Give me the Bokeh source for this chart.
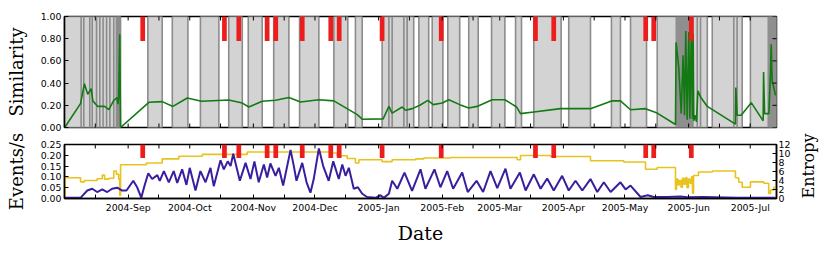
import math
import numpy as np
import pandas as pd
from bokeh.plotting import figure
from bokeh.layouts import column
from bokeh.models import (Range1d, LinearAxis, FixedTicker,
                          DatetimeTickFormatter, NumeralTickFormatter)
from bokeh.embed import file_html
from bokeh.resources import INLINE

# ---------------- data (days since START_DATE) ----------------
START_DATE = "2004-08-01"
END_DAY = 346.8

# gray "stable" segments
band_start = [0.0, 40.6, 52.5, 66.2, 80.0, 89.5, 101.9, 114.5, 131.2, 141.7, 154.7, 172.6,
              179.1, 186.7, 196.9, 208.0, 219.7, 228.6, 245.6, 266.4, 275.7, 288.7, 315.5, 334.1]
band_end = [27.3, 47.6, 60.1, 75.2, 86.6, 96.3, 109.3, 123.9, 138.0, 145.0, 170.1, 177.4,
            184.3, 192.5, 201.5, 214.5, 222.6, 241.9, 256.2, 270.8, 283.5, 313.1, 330.1, 346.8]
# extra segment boundaries inside the gray areas
boundary_days = [8.1, 9.4, 12.3, 13.5, 15.6, 17.2, 18.8, 20.5, 22.1, 24.0, 25.3, 26.4,
                 158.0, 159.6, 165.3, 166.9, 308.2, 309.8, 326.0, 327.6]
# dense boundary clusters
dense_start = [25.1, 297.6, 342.4]
dense_end = [27.3, 306.5, 346.8]

# red alert markers
alert_days = [38.1, 77.9, 84.9, 98.7, 102.9, 115.8, 129.7, 133.8, 154.7, 183.5,
              229.4, 238.3, 283.1, 287.0, 305.3]

# similarity
sim_days = [0.1, 7.8, 9.7, 11.3, 13.0, 13.8, 16.2, 18.4, 19.5, 21.6, 24.0, 25.7, 26.0, 26.4,
            26.9, 27.3, 41.1, 47.6, 52.8, 59.8, 66.7, 80.0, 86.6, 89.8, 96.3, 102.8, 109.3,
            115.0, 123.9, 131.2, 142.6, 145.0, 155.2, 158.0, 159.6, 164.5, 166.1, 169.4,
            173.1, 177.0, 179.6, 184.0, 187.2, 192.5, 196.9, 201.0, 208.3, 214.5, 220.2,
            222.1, 228.6, 241.6, 256.2, 266.8, 270.8, 275.7, 283.0, 288.7, 297.6, 297.9,
            299.2, 300.4, 301.3, 302.0, 302.6, 303.3, 304.1, 304.6, 305.3, 305.9, 306.2,
            306.5, 307.3, 307.8, 308.5, 309.8, 313.1, 326.8, 327.0, 327.6, 329.6, 334.5,
            340.3, 340.5, 341.0, 343.1, 343.9, 344.2, 344.7, 345.5, 346.3]
sim_vals = [0.0, 0.215, 0.394, 0.30, 0.35, 0.24, 0.19, 0.19, 0.19, 0.16, 0.245, 0.27, 0.21,
            0.275, 0.84, 0.0, 0.227, 0.233, 0.19, 0.266, 0.236, 0.248, 0.22, 0.185, 0.236,
            0.245, 0.27, 0.23, 0.25, 0.24, 0.116, 0.075, 0.078, 0.19, 0.13, 0.185, 0.155,
            0.17, 0.2, 0.245, 0.206, 0.22, 0.25, 0.206, 0.176, 0.19, 0.25, 0.25, 0.185,
            0.125, 0.14, 0.17, 0.17, 0.24, 0.24, 0.16, 0.17, 0.13, 0.027, 0.767, 0.54,
            0.125, 0.65, 0.11, 0.87, 0.07, 0.86, 0.08, 0.84, 0.08, 0.85, 0.06, 0.11, 0.05,
            0.33, 0.275, 0.19, 0.03, 0.36, 0.11, 0.11, 0.224, 0.06, 0.5, 0.125, 0.125, 0.5,
            0.75, 0.41, 0.36, 0.29]

# events per second
rate_days = [0.0, 7.8, 11.1, 13.5, 15.9, 18.4, 20.8, 23.2, 25.7, 28.1,
             30.2, 33.5, 35.4, 37.4, 39.0, 40.8, 42.7, 45.2, 46.4, 48.4,
             50.8, 53.2, 54.9, 57.3, 59.4, 61.0, 63.8, 66.2, 68.7, 71.1,
             72.7, 76.0, 77.6, 79.5, 80.9, 82.2, 85.4, 88.2, 90.6, 92.5,
             94.6, 97.1, 98.7, 100.3, 102.8, 104.4, 106.5, 110.1, 111.7, 113.0,
             115.8, 117.9, 119.8, 121.4, 123.9, 126.0, 128.7, 130.9, 133.6, 135.3,
             136.9, 138.5, 140.9, 142.9, 145.0, 147.4, 151.5, 153.9, 155.5, 158.0,
             159.6, 162.1, 165.6, 169.3, 173.4, 175.8, 180.2, 183.1, 186.4, 189.3,
             193.7, 196.4, 200.7, 203.9, 207.5, 210.8, 214.8, 217.2, 221.8, 224.6,
             228.6, 231.9, 235.1, 238.3, 242.4, 245.6, 248.9, 252.2, 256.2, 259.5,
             262.7, 266.0, 270.8, 273.3, 275.7, 280.6, 284.1, 287.0, 293.6, 300.0,
             303.3, 311.4, 327.7, 346.3]
rate_vals = [0.003, 0.003, 0.037, 0.045, 0.03, 0.042, 0.03, 0.045, 0.05, 0.037,
             0.037, 0.082, 0.052, 0.004, 0.06, 0.117, 0.09, 0.108, 0.082, 0.127,
             0.075, 0.127, 0.072, 0.135, 0.063, 0.142, 0.037, 0.127, 0.075, 0.142,
             0.057, 0.177, 0.135, 0.172, 0.15, 0.207, 0.082, 0.165, 0.09, 0.172,
             0.075, 0.157, 0.097, 0.162, 0.105, 0.142, 0.06, 0.225, 0.15, 0.082,
             0.165, 0.075, 0.027, 0.09, 0.232, 0.15, 0.082, 0.172, 0.09, 0.157,
             0.105, 0.142, 0.045, 0.052, 0.022, 0.007, 0.003, 0.015, 0.003, 0.022,
             0.082, 0.045, 0.12, 0.035, 0.135, 0.045, 0.135, 0.052, 0.127, 0.045,
             0.12, 0.03, 0.082, 0.03, 0.127, 0.048, 0.138, 0.045, 0.12, 0.037,
             0.112, 0.045, 0.093, 0.037, 0.105, 0.037, 0.082, 0.037, 0.09, 0.03,
             0.075, 0.03, 0.075, 0.042, 0.06, 0.007, 0.015, 0.007, 0.007, 0.009,
             0.006, 0.007, 0.004, 0.004]

# entropy (step)
ent_days = [0.0, 0.3, 7.8, 9.7, 15.9, 18.4, 19.5, 21.6, 24.0, 25.3,
            26.4, 26.9, 27.3, 39.9, 47.6, 55.7, 67.1, 89.0, 130.4, 132.8,
            137.7, 141.7, 143.4, 154.7, 159.6, 171.0, 175.0, 188.0, 220.5, 222.1,
            236.7, 256.2, 272.4, 283.0, 288.7, 297.6, 298.1, 298.8, 299.5, 300.3,
            301.0, 301.7, 302.5, 303.2, 303.9, 304.7, 305.4, 305.9, 306.4, 308.8,
            315.6, 326.8, 328.4, 330.1, 334.1, 340.6, 343.0, 343.9, 345.5, 346.8]
ent_vals = [0.0, 4.6, 3.7, 4.0, 4.4, 5.2, 4.3, 4.5, 6.1, 5.4,
            4.3, 0.7, 7.5, 7.9, 8.8, 9.4, 9.8, 10.35, 10.1, 9.5,
            8.9, 7.9, 8.6, 8.2, 8.6, 8.8, 9.0, 9.1, 8.6, 9.55,
            9.35, 8.4, 8.1, 6.5, 6.9, 2.0, 4.3, 3.0, 4.0, 2.5,
            4.5, 3.2, 4.6, 2.4, 4.3, 3.4, 4.8, 1.2, 5.1, 5.9,
            6.1, 4.6, 3.6, 2.5, 3.7, 3.4, 1.1, 1.9, 2.5, 2.5]

# axis ticks
month_ticks = ["2004-09-01", "2004-10-01", "2004-11-01", "2004-12-01", "2005-01-01",
               "2005-02-01", "2005-03-01", "2005-04-01", "2005-05-01", "2005-06-01",
               "2005-07-01"]
mid_ticks = ["2004-08-16", "2004-09-16", "2004-10-16", "2004-11-16", "2004-12-16",
             "2005-01-16", "2005-02-16", "2005-03-16", "2005-04-16", "2005-05-16",
             "2005-06-16"]
sim_ticks = [0.0, 0.2, 0.4, 0.6, 0.8, 1.0]
rate_ticks = [0.0, 0.05, 0.10, 0.15, 0.20, 0.25]
ent_ticks = [0, 2, 4, 6, 8, 10, 12]

# ---------------- helpers ----------------
T0 = pd.Timestamp(START_DATE)


def to_dt(days):
    return T0 + pd.to_timedelta(np.asarray(days, dtype=float), unit="D")


def ms(dates):
    return [pd.Timestamp(d).value / 1e6 for d in dates]


DAY_MS = 86400000.0
X_END = to_dt([END_DAY])[0]
x_range = Range1d(start=to_dt([0.0])[0], end=X_END)
all_x_ticks = pd.to_datetime(month_ticks + mid_ticks)

GRAY = "#d3d3d3"
EDGE = "#8c8c8c"
RED = "#ee1d1d"
TICK_FONT = "DejaVu Sans"
LABEL_FONT = "DejaVu Serif"
TICK_SIZE = "9.4px"
FIG_W = 831
BORDER_R = 55


def style(ax, minor=False):
    ax.major_tick_in = 4
    ax.major_tick_out = 0
    ax.minor_tick_in = 4 if minor else 0
    ax.minor_tick_out = 0
    ax.major_tick_line_color = "black"
    ax.minor_tick_line_color = "black" if minor else None
    ax.axis_line_color = "black"
    ax.axis_line_width = 1.5
    ax.major_label_text_font = TICK_FONT
    ax.major_label_text_color = "black"
    ax.major_label_text_font_size = TICK_SIZE
    ax.major_label_standoff = 3
    ax.axis_label_text_font = LABEL_FONT
    ax.axis_label_text_font_style = "normal"
    ax.axis_label_text_color = "black"


def make_fig(height, y_range, top, bottom, x_axis=True):
    p = figure(width=FIG_W, height=height, x_axis_type="datetime", x_range=x_range,
               y_range=y_range, output_backend="svg", toolbar_location=None,
               min_border_left=64, min_border_right=BORDER_R, min_border_top=top,
               min_border_bottom=bottom,
               x_axis_location="below" if x_axis else None)
    p.grid.visible = False
    p.outline_line_color = "black"
    p.outline_line_width = 1.5
    p.background_fill_color = "white"
    p.border_fill_color = "white"
    return p


def edge_ticks_x(p, y):
    # inward tick marks on a horizontal frame edge (clipped to the frame)
    p.scatter(x=all_x_ticks, y=[y] * len(all_x_ticks), marker="dash", angle=math.pi / 2,
              size=8, line_color="black", line_width=1)


fmt = DatetimeTickFormatter(days="%Y-%b", months="%Y-%b", years="%Y-%b")

# ---------------- top panel: similarity ----------------
p1 = make_fig(133, Range1d(0, 1), 16, 6, x_axis=False)
p1.quad(left=to_dt(band_start), right=to_dt(band_end), bottom=0, top=1,
        fill_color=GRAY, line_color=EDGE, line_width=1.6)
p1.quad(left=to_dt(dense_start), right=to_dt(dense_end), bottom=0, top=1,
        fill_color="#8f8f8f", line_color=None)
bd = to_dt(boundary_days)
p1.segment(x0=bd, y0=0, x1=bd, y1=1, line_color=EDGE, line_width=1.6)
p1.line(to_dt(sim_days), sim_vals, line_color="#137a13", line_width=1.6)
p1.vbar(x=to_dt(alert_days), width=2.3 * DAY_MS, bottom=0.78, top=1.0,
        fill_color=RED, line_color=None)
edge_ticks_x(p1, 0.0)
edge_ticks_x(p1, 1.0)
p1.scatter(x=[X_END] * len(sim_ticks), y=sim_ticks, marker="dash", size=8,
           line_color="black", line_width=1)

ya = p1.yaxis[0]
ya.ticker = FixedTicker(ticks=sim_ticks)
ya.formatter = NumeralTickFormatter(format="0.00")
style(ya)
ya.axis_label = "Similarity"
ya.axis_label_text_font_size = "18px"
ya.axis_label_standoff = 11

# ---------------- bottom panel: events/s + entropy ----------------
p2 = make_fig(113, Range1d(0, 0.25), 11, 46)
p2.extra_y_ranges = {"ent": Range1d(0, 12)}
p2.step(to_dt(ent_days), ent_vals, mode="after", y_range_name="ent",
        line_color="#e8c31e", line_width=1.6)
p2.line(to_dt(rate_days), rate_vals, line_color="#3b1e9e", line_width=2.0)
p2.vbar(x=to_dt(alert_days), width=2.3 * DAY_MS, bottom=0.1875, top=0.25,
        fill_color=RED, line_color=None)
edge_ticks_x(p2, 0.25)

xb = p2.xaxis[0]
xb.ticker = FixedTicker(ticks=ms(month_ticks), minor_ticks=ms(mid_ticks))
xb.formatter = fmt
style(xb, minor=True)
xb.axis_label = "Date"
xb.axis_label_text_font_size = "19px"
xb.axis_label_standoff = 6
yb = p2.yaxis[0]
yb.ticker = FixedTicker(ticks=rate_ticks)
yb.formatter = NumeralTickFormatter(format="0.00")
style(yb)
yb.axis_label = "Events/s"
yb.axis_label_text_font_size = "18px"
yb.axis_label_standoff = 11
r2 = LinearAxis(y_range_name="ent", ticker=FixedTicker(ticks=ent_ticks))
r2.formatter = NumeralTickFormatter(format="0")
style(r2)
r2.major_label_standoff = 2
r2.axis_label = "Entropy"
r2.axis_label_text_font_size = "16px"
r2.axis_label_standoff = 15
try:
    r2.axis_label_orientation = math.pi / 2
except Exception:
    pass
try:
    r2.axis_label_align = "start"
except Exception:
    pass
p2.add_layout(r2, "right")

layout = column(p1, p2, spacing=0)
open("out.html", "w").write(file_html(layout, INLINE))
